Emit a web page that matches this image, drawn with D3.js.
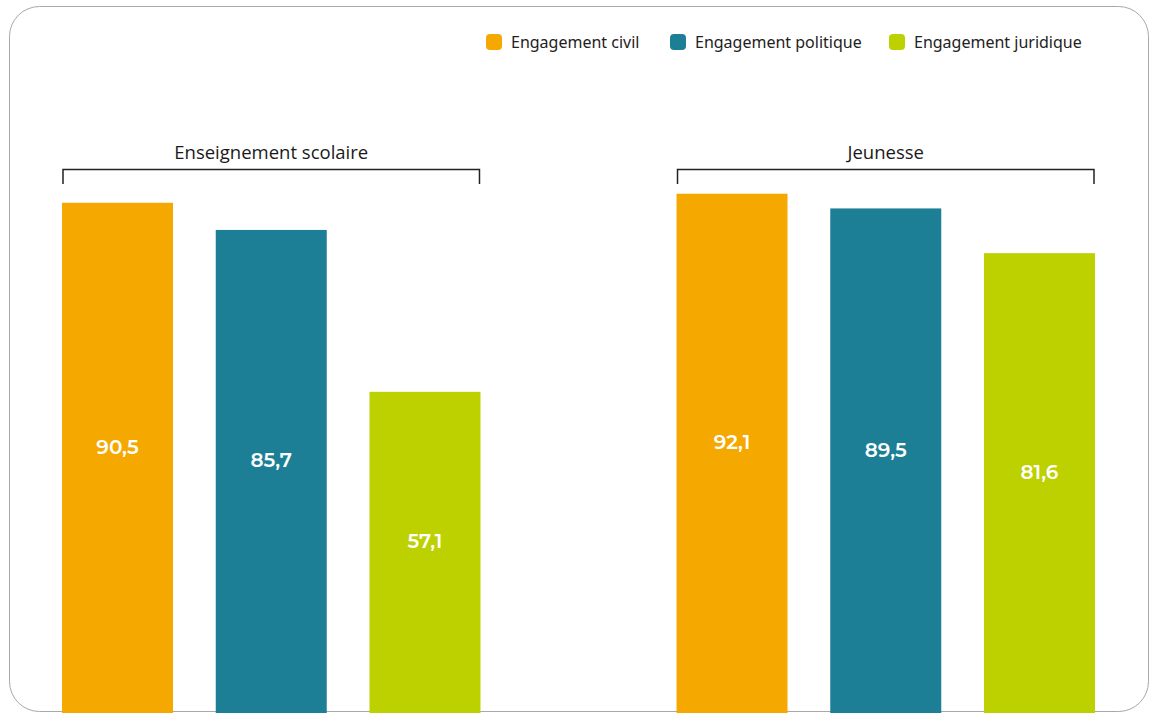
<!DOCTYPE html>
<html>
<head>
<meta charset="utf-8">
<script src="https://cdn.jsdelivr.net/npm/d3@7"></script>
<style>
  body { margin: 0; background: #fff; }
  svg { display: block; }
</style>
</head>
<body>
<script>
// data
var groups = ["Enseignement scolaire", "Jeunesse"];
var series = ["Engagement civil", "Engagement politique", "Engagement juridique"];
var scolaire = [90.5, 85.7, 57.1];
var jeunesse = [92.1, 89.5, 81.6];
var colours = ["#f5a800", "#1c7f96", "#bdd000"];

var values = [scolaire, jeunesse];

var width = 1151;
var height = 713;

var svg = d3.select("body")
    .append("svg")
    .attr("width", width)
    .attr("height", height);

// rounded frame
svg.append("rect")
    .attr("x", 9.5)
    .attr("y", 6.5)
    .attr("width", 1139)
    .attr("height", 705)
    .attr("rx", 30)
    .attr("ry", 30)
    .style("fill", "white")
    .style("stroke", "#a8a8a8")
    .style("stroke-width", 1);

// scales
var y = d3.scaleLinear()
    .domain([0, 100])
    .range([715, 149]);

var x0 = d3.scaleBand()
    .domain(groups)
    .range([62, 1095])
    .paddingInner(0.319)
    .paddingOuter(0);

var x1 = d3.scaleBand()
    .domain(series)
    .range([0, x0.bandwidth()])
    .paddingInner(0.278)
    .paddingOuter(0);

// groups
var g = svg.selectAll(".group")
    .data(groups)
    .enter()
    .append("g")
    .attr("class", "group")
    .attr("transform", function(d) { return "translate(" + x0(d) + ",0)"; });

g.selectAll("rect")
    .data(function(d, i) {
        return values[i].map(function(v, j) { return { s: series[j], v: v, c: colours[j] }; });
    })
    .enter()
    .append("rect")
    .attr("x", function(d) { return x1(d.s); })
    .attr("y", function(d) { return y(d.v); })
    .attr("width", x1.bandwidth())
    .attr("height", function(d) { return y(0) - y(d.v); })
    .style("fill", function(d) { return d.c; });

// value labels
g.selectAll(".val")
    .data(function(d, i) {
        return values[i].map(function(v, j) { return { s: series[j], v: v }; });
    })
    .enter()
    .append("text")
    .attr("class", "val")
    .attr("x", function(d) { return x1(d.s) + x1.bandwidth() / 2; })
    .attr("y", function(d) { return (y(d.v) + y(0)) / 2 - 12; })
    .attr("text-anchor", "middle")
    .attr("dominant-baseline", "central")
    .style("font-family", "Montserrat, 'Noto Sans', sans-serif")
    .style("font-size", "20px")
    .style("font-weight", 600)
    .style("fill", "white")
    .text(function(d) { return d3.format(".1f")(d.v).replace(".", ","); });

// brackets + group titles
g.append("path")
    .attr("d", function() {
        var w = x0.bandwidth();
        return "M1,184V169.5H" + (w - 1) + "V184";
    })
    .style("fill", "none")
    .style("stroke", "#222")
    .style("stroke-width", 1.5);

g.append("text")
    .attr("x", x0.bandwidth() / 2)
    .attr("y", 159)
    .attr("text-anchor", "middle")
    .style("font-family", "'Open Sans', sans-serif")
    .style("font-size", "18.5px")
    .style("fill", "#1a1a1a")
    .text(function(d) { return d; });

// legend
var legendX = [486, 670, 889];
var legend = svg.selectAll(".legend")
    .data(series)
    .enter()
    .append("g")
    .attr("class", "legend")
    .attr("transform", function(d, i) { return "translate(" + legendX[i] + ",34)"; });

legend.append("rect")
    .attr("width", 16)
    .attr("height", 16)
    .attr("rx", 4)
    .style("fill", function(d, i) { return colours[i]; });

legend.append("text")
    .attr("x", 25)
    .attr("y", 14)
    .style("font-family", "'Noto Sans', sans-serif")
    .style("font-size", "16px")
    .style("fill", "#222")
    .text(function(d) { return d; });
</script>
</body>
</html>
